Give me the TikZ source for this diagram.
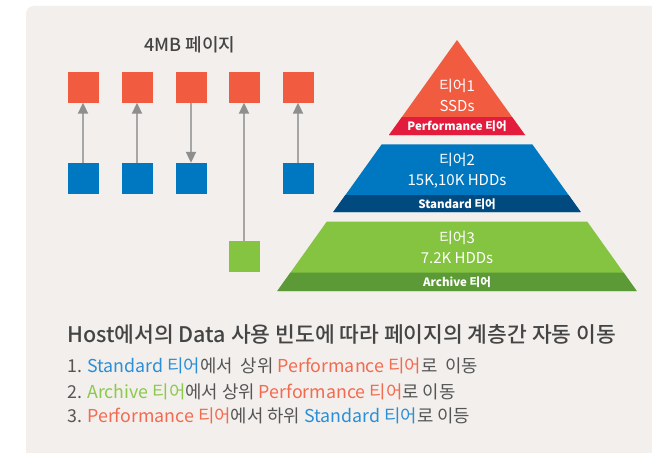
\documentclass[tikz,border=0pt]{standalone}
\usepackage{fontspec}
\setmainfont{Noto Sans CJK KR}
\newfontfamily\medfont{Noto Sans CJK KR}[UprightFont=* Medium]
\usetikzlibrary{arrows.meta}

\definecolor{panelbg}{HTML}{F2EFEC}
\definecolor{hotred}{HTML}{F15C40}
\definecolor{perfband}{HTML}{E31B3C}
\definecolor{stdblue}{HTML}{0078C1}
\definecolor{stdband}{HTML}{004A80}
\definecolor{arcgreen}{HTML}{84C441}
\definecolor{arcband}{HTML}{5B9A36}
\definecolor{linegray}{HTML}{A6A6A6}
\definecolor{tipgray}{HTML}{8E8E8E}
\definecolor{darktext}{HTML}{444444}
\definecolor{listtext}{HTML}{555555}
\definecolor{stdtext}{HTML}{2A8FD6}
\definecolor{arctext}{HTML}{8DC84E}
\definecolor{perftext}{HTML}{F26A50}

\begin{document}
\begin{tikzpicture}[
    x=1pt, y=-1pt,
    page/.style={rectangle, minimum size=31pt, inner sep=0pt},
    move/.style={-{Triangle[length=11pt, width=10pt, color=tipgray]}, line width=2pt, draw=linegray},
    tiertxt/.style={text=white, align=center, font=\fontsize{15}{20}\selectfont},
    bandtxt/.style={text=white, font=\bfseries\fontsize{11.5}{11.5}\selectfont},
    listline/.style={anchor=west, text=listtext, inner sep=0pt, font=\fontsize{17.8}{18}\selectfont}
]
\useasboundingbox (0,0) rectangle (652,452);
\fill[white] (0,0) rectangle (652,452);
\fill[panelbg, rounded corners=8pt] (26,6) rectangle (670,470);

% Pages
\node[text=darktext, font=\medfont\fontsize{18}{18}\selectfont] (title) at (190,45) {4MB 페이지};

\node[page, fill=hotred] (p1) at (83,87) {};
\node[page, fill=hotred] (p2) at (137,87) {};
\node[page, fill=hotred] (p3) at (191,87) {};
\node[page, fill=hotred] (p4) at (244,87) {};
\node[page, fill=hotred] (p5) at (298,87) {};

\node[page, fill=stdblue] (s1) at (83,178.5) {};
\node[page, fill=stdblue] (s2) at (137,178.5) {};
\node[page, fill=stdblue] (s3) at (191,178.5) {};
\node[page, fill=stdblue] (s5) at (298,178.5) {};

\node[page, fill=arcgreen] (a4) at (244,256.5) {};

% Moves
\draw[move] (s1) -- (p1);
\draw[move] (s2) -- (p2);
\draw[move] (p3) -- (s3);
\draw[move] (a4) -- (p4);
\draw[move] (s5) -- (p5);

% Tier 1
\fill[hotred] (457,40) -- (525,135) -- (389,135) -- cycle;
\fill[perfband] (402,117) -- (512,117) -- (525,135) -- (389,135) -- cycle;
\node[tiertxt] (t1) at (457,95) {티어1\\SSDs};
\node[bandtxt] (b1) at (457,126.5) {Performance 티어};

% Tier 2
\fill[stdblue] (381.7,144.3) -- (532.3,144.3) -- (580.7,212) -- (333.3,212) -- cycle;
\fill[stdband] (345.4,195) -- (568.6,195) -- (580.7,212) -- (333.3,212) -- cycle;
\node[tiertxt] (t2) at (457,171) {티어2\\15K,10K HDDs};
\node[bandtxt] (b2) at (457,204) {Standard 티어};

% Tier 3
\fill[arcgreen] (326.7,221.7) -- (587.3,221.7) -- (636.7,291) -- (277.3,291) -- cycle;
\fill[arcband] (290.3,272.7) -- (623.7,272.7) -- (636.7,291) -- (277.3,291) -- cycle;
\node[tiertxt] (t3) at (457,247.5) {티어3\\7.2K HDDs};
\node[bandtxt] (b3) at (457,282) {Archive 티어};

% Caption
\node[anchor=west, inner sep=0pt, text=darktext, font=\medfont\fontsize{21.5}{22}\selectfont] (cap) at (67,334)
  {Host에서의 Data 사용 빈도에 따라 페이지의 계층간 자동 이동};
\node[listline] (l1) at (67,366)
  {1. \textcolor{stdtext}{Standard 티어}에서\ \ 상위 \textcolor{perftext}{Performance 티어}로\ \ 이동};
\node[listline] (l2) at (67,392)
  {2. \textcolor{arctext}{Archive 티어}에서 상위 \textcolor{perftext}{Performance 티어}로 이동};
\node[listline] (l3) at (67,416)
  {3. \textcolor{perftext}{Performance 티어}에서 하위 \textcolor{stdtext}{Standard 티어}로 이등};
\end{tikzpicture}
\end{document}
